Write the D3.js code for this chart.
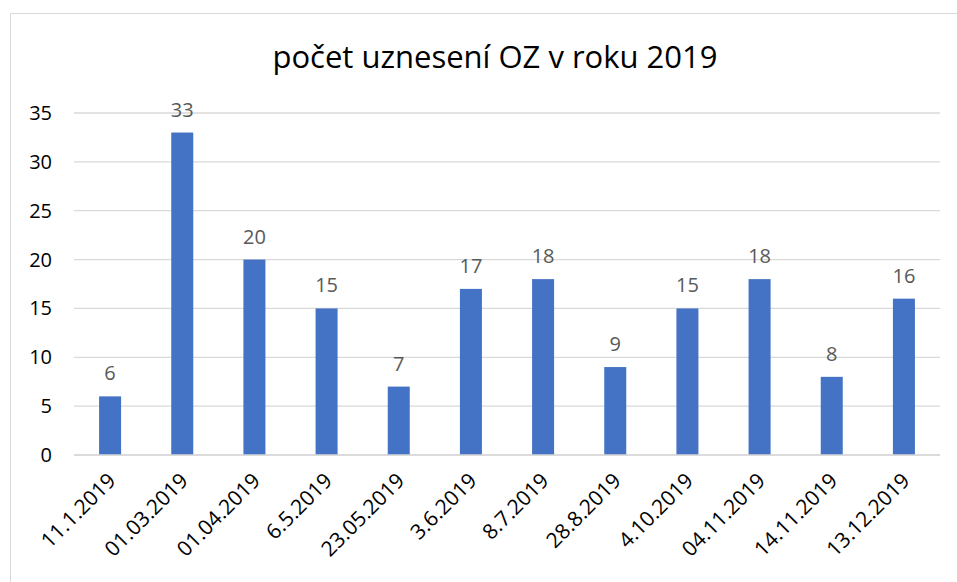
<!DOCTYPE html>
<html>
<head>
<meta charset="utf-8">
<script src="https://cdn.jsdelivr.net/npm/d3@7"></script>
<style>
  body { margin: 0; background: #fff; overflow: hidden; }
  svg { display: block; }
  text { font-family: "Open Sans", Lato, sans-serif; }
</style>
</head>
<body>
<div id="chart"></div>
<script>
var dates = ["11.1.2019", "01.03.2019", "01.04.2019", "6.5.2019", "23.05.2019", "3.6.2019",
             "8.7.2019", "28.8.2019", "4.10.2019", "04.11.2019", "14.11.2019", "13.12.2019"];
var counts = [6, 33, 20, 15, 7, 17, 18, 9, 15, 18, 8, 16];
var yTicks = [0, 5, 10, 15, 20, 25, 30, 35];

var width = 957, height = 582;
var margin = { top: 113, right: 17, bottom: 127, left: 74 };
var innerWidth = width - margin.left - margin.right;
var innerHeight = height - margin.top - margin.bottom;

var svg = d3.select("#chart").append("svg")
    .attr("width", width)
    .attr("height", height);

// chart frame (left and top edges visible, rest runs off the picture)
svg.append("path")
    .attr("d", "M10.5," + height + "V13.5H" + width)
    .attr("fill", "none")
    .attr("stroke", "#d9d9d9");

svg.append("text")
    .attr("x", 495)
    .attr("y", 68)
    .attr("text-anchor", "middle")
    .style("font-size", "31px")
    .style("fill", "#000")
    .text("počet uznesení OZ v roku 2019");

var g = svg.append("g")
    .attr("transform", "translate(" + margin.left + "," + margin.top + ")");

var xScale = d3.scaleBand()
    .domain(dates)
    .range([0, innerWidth])
    .padding(0);

var yScale = d3.scaleLinear()
    .domain([0, 35])
    .range([innerHeight, 0]);

// gridlines
g.selectAll(".grid")
    .data(yTicks)
    .enter()
    .append("line")
    .attr("class", "grid")
    .attr("x1", 0)
    .attr("x2", innerWidth)
    .attr("y1", d => yScale(d))
    .attr("y2", d => yScale(d))
    .attr("stroke", "#d9d9d9")
    .attr("stroke-width", 1.3);

// y axis labels (right edge 22px left of the plot)
g.selectAll(".y-label")
    .data(yTicks)
    .enter()
    .append("text")
    .attr("class", "y-label")
    .attr("y", d => yScale(d))
    .attr("dy", "0.35em")
    .style("font-size", "20px")
    .style("fill", "#000")
    .text(d => d)
    .attr("x", function() { return -22 - this.getComputedTextLength(); });

var barW = xScale.bandwidth() * 0.305;

g.selectAll(".bar")
    .data(counts)
    .enter()
    .append("rect")
    .attr("class", "bar")
    .attr("x", (d, i) => xScale(dates[i]) + (xScale.bandwidth() - barW) / 2)
    .attr("y", d => yScale(d))
    .attr("width", barW)
    .attr("height", d => innerHeight - yScale(d))
    .attr("fill", "#4472c4");

g.selectAll(".bar-label")
    .data(counts)
    .enter()
    .append("text")
    .attr("class", "bar-label")
    .attr("x", (d, i) => xScale(dates[i]) + xScale.bandwidth() / 2)
    .attr("y", d => yScale(d) - 16)
    .attr("text-anchor", "middle")
    .style("font-size", "20px")
    .style("fill", "#595959")
    .text(d => d);

// x axis line
g.append("line")
    .attr("x1", 0)
    .attr("x2", innerWidth)
    .attr("y1", innerHeight)
    .attr("y2", innerHeight)
    .attr("stroke", "#d9d9d9")
    .attr("stroke-width", 1.3);

// x labels, rotated -45 and ending under each bar
g.selectAll(".x-label")
    .data(dates)
    .enter()
    .append("text")
    .attr("class", "x-label")
    .style("font-size", "21px")
    .style("fill", "#000")
    .text(d => d)
    .attr("x", function() { return -this.getComputedTextLength(); })
    .attr("transform", d => "translate(" + (xScale(d) + xScale.bandwidth() / 2 + 7) + "," + (innerHeight + 27) + ") rotate(-45)");
</script>
</body>
</html>
